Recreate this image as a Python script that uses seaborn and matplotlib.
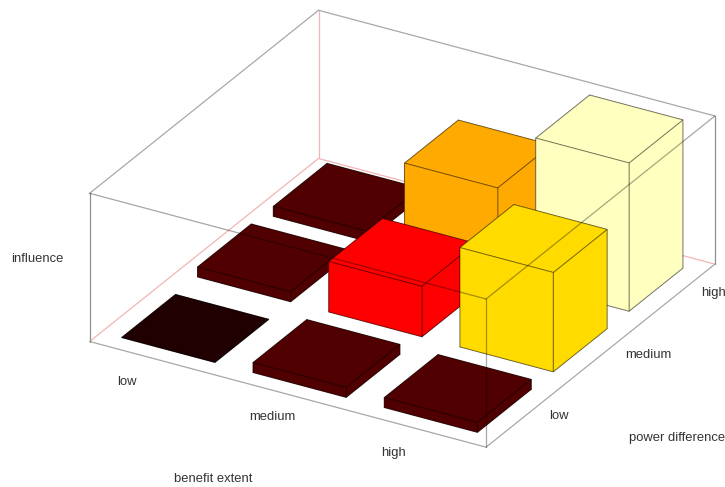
import matplotlib
matplotlib.use("Agg")
import matplotlib.pyplot as plt
import seaborn as sns

# benefit extent runs along x, power difference along y
levels = ["low", "medium", "high"]
x_pos = [0, 1, 2]
y_pos = [0, 1, 2]

# influence, one row per power difference level
heights_low = [0.0, 0.067, 0.067]
heights_medium = [0.067, 0.34, 0.67]
heights_high = [0.067, 0.595, 1.0]

colors_low = ["#200000", "#500000", "#500000"]
colors_medium = ["#500000", "#ff0000", "#ffdb00"]
colors_high = ["#500000", "#ffaa00", "#ffffbf"]

x_title = "benefit extent"
y_title = "power difference"
z_title = "influence"

sns.set_theme(style="white")
plt.rcParams['font.family'] = ['Liberation Sans', 'DejaVu Sans']

fig = plt.figure(figsize=(7.25, 4.87), dpi=100)
fig.patch.set_facecolor("white")

# axes run past the figure on purpose, the 3d box only fills part of them
ax = fig.add_axes([69 / 725, -75 / 487, 649 / 725, 649 / 487], projection="3d")
ax.computed_zorder = False
ax.set_proj_type("ortho")
ax.view_init(elev=27.5, azim=-60)
ax.set_box_aspect((1, 1, 0.365))

x0, x1 = -0.51, 2.51
y0, y1 = -0.51, 2.51
z0, z1 = 0, 1
bar_w = 0.71

# back of the box, behind the bars
pink = "#f2b5b5"
grey = "#a8a8a8"
ax.plot([x0, x0], [y0, y1], [z0, z0], color=pink, lw=0.9, zorder=1)
ax.plot([x0, x1], [y1, y1], [z0, z0], color=pink, lw=0.9, zorder=1)
ax.plot([x0, x0], [y1, y1], [z0, z1], color=pink, lw=0.9, zorder=1)
ax.plot([x0, x0], [y0, y1], [z1, z1], color=grey, lw=0.9, zorder=1)
ax.plot([x0, x1], [y1, y1], [z1, z1], color=grey, lw=0.9, zorder=1)

# draw far bars first so the nearer ones cover them
rows = [(2, heights_high, colors_high), (1, heights_medium, colors_medium), (0, heights_low, colors_low)]
order = 2
for j, heights, colors in rows:
    for i in x_pos:
        ax.bar3d(x_pos[i] - bar_w / 2, y_pos[j] - bar_w / 2, 0, bar_w, bar_w, heights[i],
                 color=colors[i], shade=False, edgecolor=(0, 0, 0, 0.4), linewidth=0.7, zorder=order)
        order += 1

# front of the box goes over the bars
ax.plot([x0, x1], [y0, y0], [z0, z0], color=grey, lw=0.9, zorder=20)
ax.plot([x1, x1], [y0, y1], [z0, z0], color=grey, lw=0.9, zorder=20)
ax.plot([x0, x0], [y0, y0], [z0, z1], color="#909090", lw=0.9, zorder=20)
ax.plot([x1, x1], [y1, y1], [z0, z1], color="#909090", lw=0.9, zorder=20)
ax.plot([x1, x1], [y0, y0], [z0, z1], color=(0, 0, 0, 0.35), lw=0.9, zorder=20)
ax.plot([x0, x1], [y0, y0], [z1, z1], color=(0, 0, 0, 0.35), lw=0.9, zorder=20)
ax.plot([x1, x1], [y0, y1], [z1, z1], color=(0, 0, 0, 0.35), lw=0.9, zorder=20)

ax.set_xlim(x0, x1)
ax.set_ylim(y0, y1)
ax.set_zlim(z0, z1)
ax.set_axis_off()

def label(px, py, s, ha="center"):
    fig.text(px / 725, 1 - py / 487, s, ha=ha, va="center", fontsize=9.4, color="#333333")

for s, px, py in zip(levels, [127, 272, 393], [382, 417, 453]):
    label(px, py, s)
for s, px, py in zip(levels, [559, 648, 714], [416, 355, 293]):
    label(px, py, s)
label(37, 259, z_title)
label(213, 479, x_title)
label(629, 438, y_title, ha="left")

fig.savefig("out.png", dpi=100)
